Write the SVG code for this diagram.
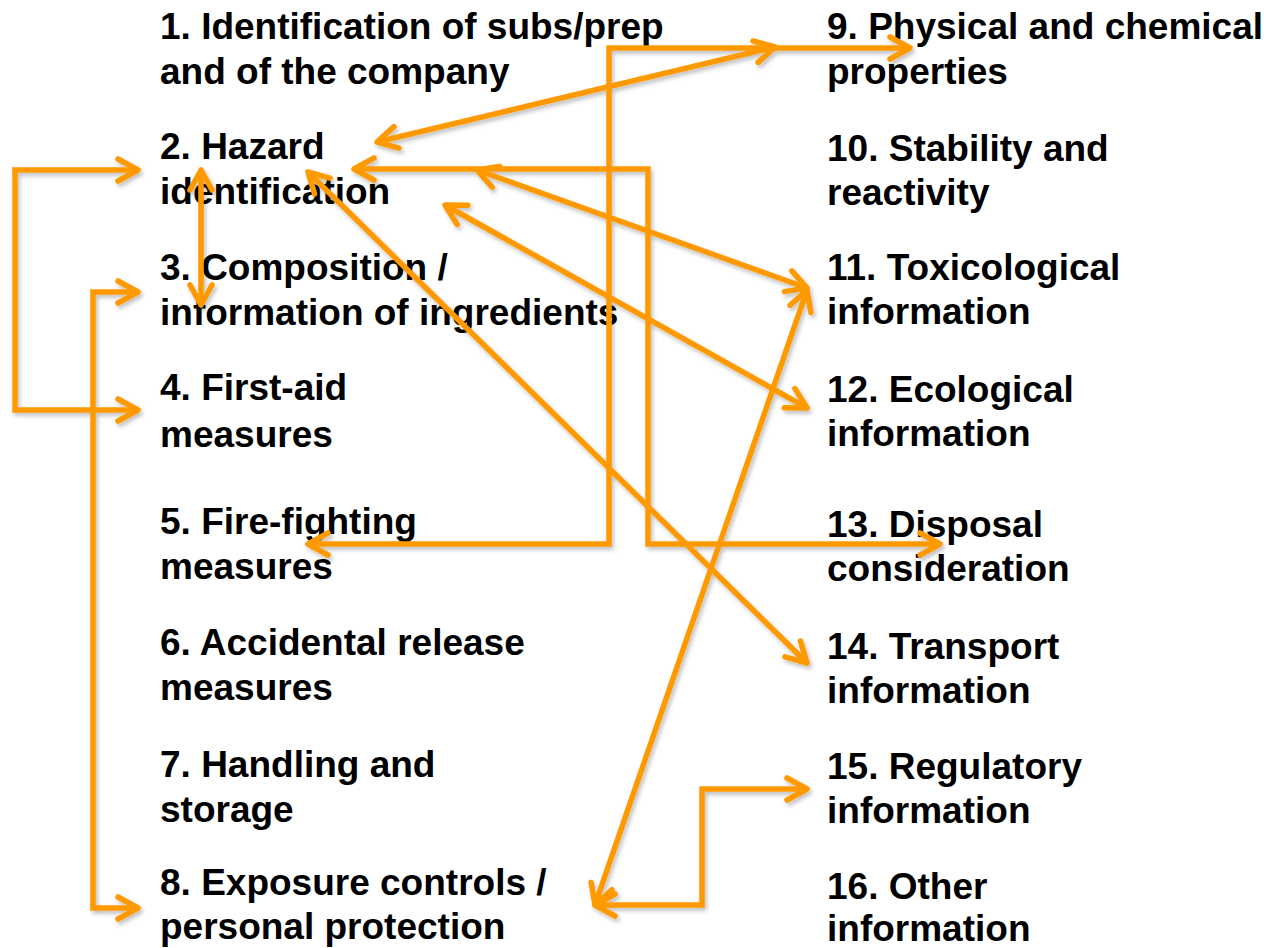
<svg xmlns="http://www.w3.org/2000/svg" width="1268" height="948" viewBox="0 0 1268 948">
<defs>
<style>
.t{font-family:"Liberation Sans",Arial,sans-serif;font-weight:bold;font-size:37px;fill:#000}
.c{fill:none;stroke:#FF9900;stroke-width:5.5;stroke-linejoin:miter;marker-start:url(#ah);marker-end:url(#ah)}
</style>
<marker id="ah" markerUnits="userSpaceOnUse" orient="auto-start-reverse" viewBox="-26 -16 32 32" refX="0" refY="0" markerWidth="32" markerHeight="32">
<path d="M-20,-11 L0,0 L-20,11" fill="none" stroke="#FF9900" stroke-width="5.5" stroke-linecap="round" stroke-linejoin="round"/>
</marker>
<filter id="sh" x="-10%" y="-10%" width="120%" height="120%">
<feDropShadow dx="2" dy="3" stdDeviation="2" flood-color="#000" flood-opacity="0.25"/>
</filter>
</defs>
<rect width="1268" height="948" fill="#fff"/>
<g id="n1"><text class="t" x="160" y="39">1. Identification of subs/prep</text><text class="t" x="160" y="84">and of the company</text></g>
<g id="n2"><text class="t" x="160" y="159">2. Hazard</text><text class="t" x="160" y="204">identification</text></g>
<g id="n3"><text class="t" x="160" y="280">3. Composition /</text><text class="t" x="160" y="325">information of ingredients</text></g>
<g id="n4"><text class="t" x="160" y="400">4. First-aid</text><text class="t" x="160" y="447">measures</text></g>
<g id="n5"><text class="t" x="160" y="534">5. Fire-fighting</text><text class="t" x="160" y="579">measures</text></g>
<g id="n6"><text class="t" x="160" y="655">6. Accidental release</text><text class="t" x="160" y="700">measures</text></g>
<g id="n7"><text class="t" x="160" y="777">7. Handling and</text><text class="t" x="160" y="822">storage</text></g>
<g id="n8"><text class="t" x="160" y="895">8. Exposure controls /</text><text class="t" x="160" y="939">personal protection</text></g>
<g id="n9"><text class="t" x="827" y="39">9. Physical and chemical</text><text class="t" x="827" y="84">properties</text></g>
<g id="n10"><text class="t" x="827" y="161">10. Stability and</text><text class="t" x="827" y="205">reactivity</text></g>
<g id="n11"><text class="t" x="827" y="280">11. Toxicological</text><text class="t" x="827" y="324">information</text></g>
<g id="n12"><text class="t" x="827" y="402">12. Ecological</text><text class="t" x="827" y="446">information</text></g>
<g id="n13"><text class="t" x="827" y="537">13. Disposal</text><text class="t" x="827" y="581">consideration</text></g>
<g id="n14"><text class="t" x="827" y="659">14. Transport</text><text class="t" x="827" y="703">information</text></g>
<g id="n15"><text class="t" x="827" y="779">15. Regulatory</text><text class="t" x="827" y="823">information</text></g>
<g id="n16"><text class="t" x="827" y="899">16. Other</text><text class="t" x="827" y="941">information</text></g>
<g id="connectors" filter="url(#sh)">
<path class="c" d="M138,170 H15 V410 H138"/>
<path class="c" d="M201,170 V305"/>
<path class="c" d="M138,292 H93 V908 H138"/>
<path class="c" d="M377,142 L775,47"/>
<path class="c" d="M308,544 H609 V48 H910"/>
<path class="c" d="M354,169 H648 V544 H940"/>
<path class="c" d="M477,170 L807,288"/>
<path class="c" d="M445,205 L807,408"/>
<path class="c" d="M308,172 L807,663"/>
<path class="c" d="M807,290 L595,905"/>
<path class="c" d="M595,905 H702 V789 H807"/>
</g>
</svg>
